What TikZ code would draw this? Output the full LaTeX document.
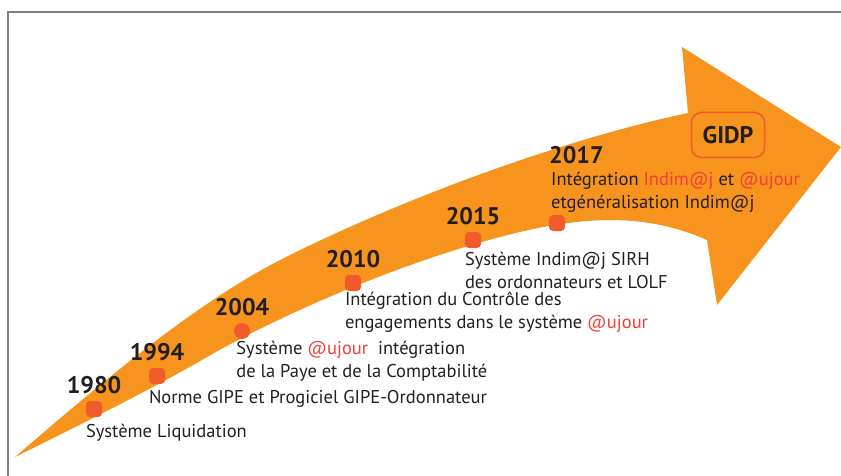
\documentclass[tikz,border=0pt]{standalone}
\usepackage{fontspec}
\setmainfont{PT Sans}
\usepackage{xcolor}
\usepackage{tikz}
\usetikzlibrary{positioning}
\definecolor{arroworange}{RGB}{247,148,30}
\definecolor{dotred}{RGB}{241,90,41}
\definecolor{hlred}{RGB}{239,65,54}
\definecolor{textdark}{RGB}{35,31,32}
\definecolor{framegray}{RGB}{128,128,128}
\newcommand{\hl}[1]{\textcolor{hlred}{#1}}
\tikzset{
    band/.style={fill=arroworange, draw=none},
    milestone/.style={rectangle, fill=dotred, rounded corners=4pt, minimum width=16pt, minimum height=16pt, inner sep=0pt},
    milestone round/.style={circle, fill=dotred, minimum size=16pt, inner sep=0pt},
    year/.style={font=\bfseries\fontsize{24}{27}\selectfont, text=textdark, inner sep=0pt},
    desc/.style={font=\fontsize{18.5}{23}\selectfont, text=textdark, inner sep=0pt, align=left, anchor=base west},
    badge/.style={draw=dotred, line width=1.5pt, rounded corners=10pt, minimum width=73pt, minimum height=45pt, inner sep=0pt, font=\bfseries\fontsize{24}{27}\selectfont, text=textdark},
    frame/.style={draw=framegray, line width=1.3pt}
}

\begin{document}
\begin{tikzpicture}[x=1pt, y=-1pt]
    \useasboundingbox (0,0) rectangle (841,476);
    \draw[frame] (841,12) -- (8,12) -- (8,476);

    % big curved arrow
    \fill[band] (15,457) .. controls (110,375) and (200,300) .. (286,257)
        .. controls (400,200) and (560,140) .. (688,113) -- (682,47) -- (841,147)
        -- (717,305) -- (707,240) .. controls (650,215) and (590,213) .. (500,237)
        .. controls (420,258) and (310,300) .. (214,353)
        .. controls (160,385) and (70,430) .. (15,457) -- cycle;

    % milestones
    \node[milestone] (m1980) at (94,409) {};
    \node[milestone] (m1994) at (157,376) {};
    \node[milestone round] (m2004) at (242,331) {};
    \node[milestone] (m2010) at (353,283) {};
    \node[milestone] (m2015) at (473,240) {};
    \node[milestone] (m2017) at (557,223) {};

    \foreach \y in {1980,1994,2004,2010,2015} {
        \node[year, above=7pt of m\y] (y\y) {\y};
    }
    \node[year, anchor=base west] (y2017) at (549,164) {2017};

    % descriptions (base = last line)
    \node[desc] (t1980) at ([yshift=-20pt]m1980.south west) {Système Liquidation};
    \node[desc] (t1994) at ([yshift=-19pt]m1994.south west) {Norme GIPE et Progiciel GIPE-Ordonnateur};
    \node[desc] (t2004) at ([yshift=-41pt]m2004.south west) {Système \hl{@ujour}\ \ intégration\\de la Paye et de la Comptabilité};
    \node[desc] (t2010) at ([yshift=-37pt]m2010.south west) {Intégration du Contrôle des\\engagements dans le système \hl{@ujour}};
    \node[desc] (t2015) at ([yshift=-40pt]m2015.south west) {Système Indim@j SIRH\\des ordonnateurs et LOLF};
    \node[desc] (t2017) at (551,208) {Intégration \hl{Indim@j} et \hl{@ujour}\\etgénéralisation Indim@j};

    \node[badge] (gidp) at (728,135) {GIDP};
\end{tikzpicture}
\end{document}
